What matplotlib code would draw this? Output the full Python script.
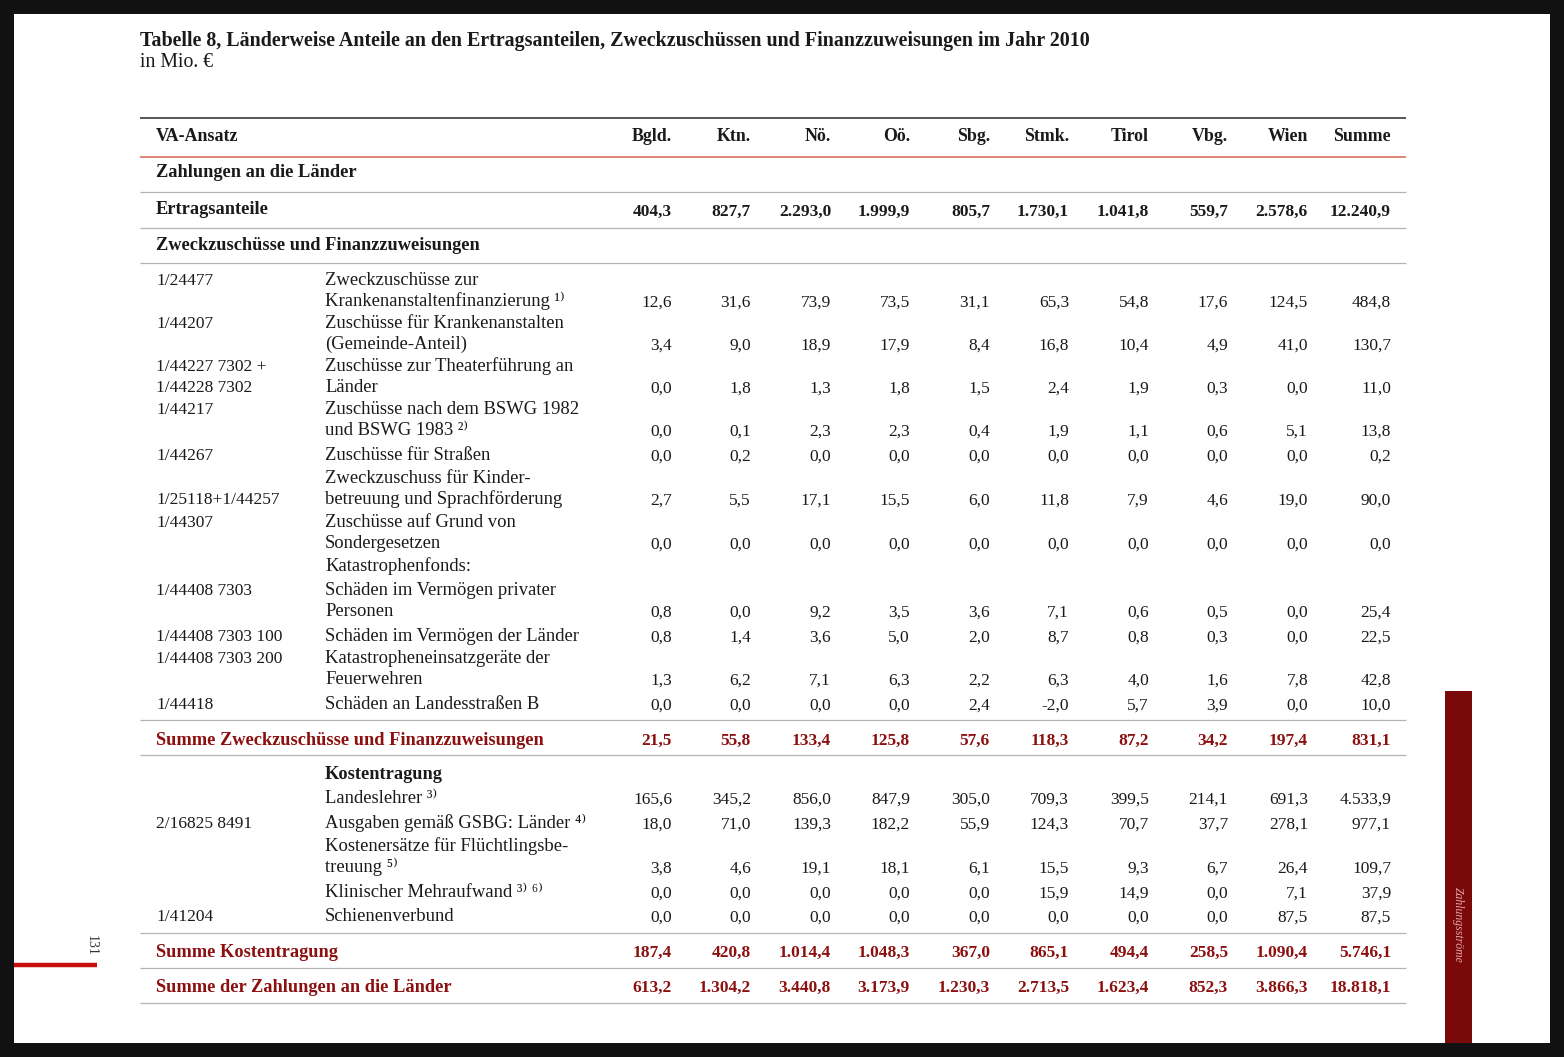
import matplotlib
matplotlib.use("Agg")
import matplotlib.pyplot as plt
from matplotlib.patches import Rectangle

plt.rcParams['font.family'] = ['Liberation Serif', 'DejaVu Serif']

# --- Daten (Mio. €) ---
laender = ['Bgld.', 'Ktn.', 'Nö.', 'Oö.', 'Sbg.', 'Stmk.', 'Tirol', 'Vbg.', 'Wien', 'Summe']

ertragsanteile = ['404,3', '827,7', '2.293,0', '1.999,9', '805,7', '1.730,1', '1.041,8', '559,7', '2.578,6', '12.240,9']

zz_codes = [['1/24477', ''], ['1/44207', ''], ['1/44227 7302 +', '1/44228 7302'], ['1/44217', ''],
            ['1/44267'], ['', '1/25118+1/44257'], ['1/44307', ''], [''],
            ['1/44408 7303', ''], ['1/44408 7303 100'], ['1/44408 7303 200', ''], ['1/44418']]
zz_desc = [['Zweckzuschüsse zur', 'Krankenanstaltenfinanzierung ¹⁾'],
           ['Zuschüsse für Krankenanstalten', '(Gemeinde-Anteil)'],
           ['Zuschüsse zur Theaterführung an', 'Länder'],
           ['Zuschüsse nach dem BSWG 1982', 'und BSWG 1983 ²⁾'],
           ['Zuschüsse für Straßen'],
           ['Zweckzuschuss für Kinder-', 'betreuung und Sprachförderung'],
           ['Zuschüsse auf Grund von', 'Sondergesetzen'],
           ['Katastrophenfonds:'],
           ['Schäden im Vermögen privater', 'Personen'],
           ['Schäden im Vermögen der Länder'],
           ['Katastropheneinsatzgeräte der', 'Feuerwehren'],
           ['Schäden an Landesstraßen B']]
zz_values = [
    ['12,6', '31,6', '73,9', '73,5', '31,1', '65,3', '54,8', '17,6', '124,5', '484,8'],
    ['3,4', '9,0', '18,9', '17,9', '8,4', '16,8', '10,4', '4,9', '41,0', '130,7'],
    ['0,0', '1,8', '1,3', '1,8', '1,5', '2,4', '1,9', '0,3', '0,0', '11,0'],
    ['0,0', '0,1', '2,3', '2,3', '0,4', '1,9', '1,1', '0,6', '5,1', '13,8'],
    ['0,0', '0,2', '0,0', '0,0', '0,0', '0,0', '0,0', '0,0', '0,0', '0,2'],
    ['2,7', '5,5', '17,1', '15,5', '6,0', '11,8', '7,9', '4,6', '19,0', '90,0'],
    ['0,0', '0,0', '0,0', '0,0', '0,0', '0,0', '0,0', '0,0', '0,0', '0,0'],
    None,
    ['0,8', '0,0', '9,2', '3,5', '3,6', '7,1', '0,6', '0,5', '0,0', '25,4'],
    ['0,8', '1,4', '3,6', '5,0', '2,0', '8,7', '0,8', '0,3', '0,0', '22,5'],
    ['1,3', '6,2', '7,1', '6,3', '2,2', '6,3', '4,0', '1,6', '7,8', '42,8'],
    ['0,0', '0,0', '0,0', '0,0', '2,4', '-2,0', '5,7', '3,9', '0,0', '10,0'],
]
summe_zz = ['21,5', '55,8', '133,4', '125,8', '57,6', '118,3', '87,2', '34,2', '197,4', '831,1']

kt_codes = [[''], ['2/16825 8491'], ['', ''], [''], ['1/41204']]
kt_desc = [['Landeslehrer ³⁾'], ['Ausgaben gemäß GSBG: Länder ⁴⁾'],
           ['Kostenersätze für Flüchtlingsbe-', 'treuung ⁵⁾'],
           ['Klinischer Mehraufwand ³⁾ ⁶⁾'], ['Schienenverbund']]
kt_values = [
    ['165,6', '345,2', '856,0', '847,9', '305,0', '709,3', '399,5', '214,1', '691,3', '4.533,9'],
    ['18,0', '71,0', '139,3', '182,2', '55,9', '124,3', '70,7', '37,7', '278,1', '977,1'],
    ['3,8', '4,6', '19,1', '18,1', '6,1', '15,5', '9,3', '6,7', '26,4', '109,7'],
    ['0,0', '0,0', '0,0', '0,0', '0,0', '15,9', '14,9', '0,0', '7,1', '37,9'],
    ['0,0', '0,0', '0,0', '0,0', '0,0', '0,0', '0,0', '0,0', '87,5', '87,5'],
]
summe_kt = ['187,4', '420,8', '1.014,4', '1.048,3', '367,0', '865,1', '494,4', '258,5', '1.090,4', '5.746,1']
summe_gesamt = ['613,2', '1.304,2', '3.440,8', '3.173,9', '1.230,3', '2.713,5', '1.623,4', '852,3', '3.866,3', '18.818,1']

# --- Layout (Pixel) ---
col_right = [672, 751, 831, 910, 990, 1069, 1149, 1228, 1308, 1391]
x_code, x_desc, x_left, x_right = 156, 325, 140, 1406
zz_row_y = [285, 328, 371, 414, 460, 483, 527, 571, 595, 641, 663, 709]
kt_row_y = [803, 828, 851, 897, 921]
line_h = 21
fs_num = 12.5      # Zahlen und Ansatz-Codes
fs_txt = 13.4      # Beschreibungen
fs_bold = 13.2     # fette Zeilenbeschriftungen
dark = '#1a1a1a'
red_txt = '#8c1010'

fig = plt.figure(figsize=(15.64, 10.57), dpi=100, facecolor='#111111')
ax = fig.add_axes([0, 0, 1, 1])
ax.set_xlim(0, 1564)
ax.set_ylim(1057, 0)
ax.axis('off')

# Seite
ax.add_patch(Rectangle((14, 14), 1536, 1029, facecolor='white', edgecolor='none'))
ax.add_patch(Rectangle((1445, 691), 27, 352, facecolor='#7a0a0a', edgecolor='none'))
ax.text(1458, 925, 'Zahlungsströme', rotation=270, ha='center', va='center',
        fontsize=8.5, style='italic', color='#e9a3a3')
ax.plot([14, 97], [965, 965], color='#c80f0f', lw=3.2, solid_capstyle='butt')
ax.text(91, 945, '131', rotation=270, ha='center', va='center', fontsize=10, color='#333333')

# Titel
ax.text(140, 46, 'Tabelle 8, Länderweise Anteile an den Ertragsanteilen, Zweckzuschüssen und '
        'Finanzzuweisungen im Jahr 2010', fontsize=14.4, fontweight='bold', color=dark, va='baseline')
ax.text(140, 67, 'in Mio. €', fontsize=14.2, color=dark, va='baseline')


def hline(y, color='#b4b4b4', lw=0.9):
    ax.plot([x_left, x_right], [y, y], color=color, lw=lw, solid_capstyle='butt')


def values(y, vals, bold=False, color=dark, fs=fs_num):
    for xr, v in zip(col_right, vals):
        ax.text(xr, y, v, ha='right', va='baseline', fontsize=fs, color=color,
                fontweight='bold' if bold else 'normal')


def label(x, y, s, bold=False, color=dark):
    ax.text(x, y, s, fontsize=fs_bold if bold else fs_txt, va='baseline', color=color,
            fontweight='bold' if bold else 'normal')


# Kopf
hline(118, color='#4a4a4a', lw=1.3)
ax.text(x_code, 141, 'VA-Ansatz', fontsize=13, fontweight='bold', va='baseline', color=dark)
values(141, laender, bold=True, fs=12.9)
hline(157, color='#d8644f', lw=1.1)

label(x_code, 177, 'Zahlungen an die Länder', bold=True)
hline(192)
label(x_code, 214, 'Ertragsanteile', bold=True)
values(216, ertragsanteile, bold=True)
hline(228)
label(x_code, 250, 'Zweckzuschüsse und Finanzzuweisungen', bold=True)
hline(263)

for y0, codes, desc, vals in zip(zz_row_y, zz_codes, zz_desc, zz_values):
    for i, c in enumerate(codes):
        ax.text(x_code, y0 + i * line_h, c, fontsize=fs_num, va='baseline', color=dark)
    for i, d in enumerate(desc):
        label(x_desc, y0 + i * line_h, d)
    if vals is not None:
        values(y0 + (len(desc) - 1) * line_h + 1, vals)
hline(720)

label(x_code, 745, 'Summe Zweckzuschüsse und Finanzzuweisungen', bold=True, color=red_txt)
values(745, summe_zz, bold=True, color=red_txt)
hline(755)

label(x_desc, 779, 'Kostentragung', bold=True)
for y0, codes, desc, vals in zip(kt_row_y, kt_codes, kt_desc, kt_values):
    for i, c in enumerate(codes):
        ax.text(x_code, y0 + i * line_h, c, fontsize=fs_num, va='baseline', color=dark)
    for i, d in enumerate(desc):
        label(x_desc, y0 + i * line_h, d)
    values(y0 + (len(desc) - 1) * line_h + 1, vals)
hline(933)

label(x_code, 957, 'Summe Kostentragung', bold=True, color=red_txt)
values(957, summe_kt, bold=True, color=red_txt)
hline(968)
label(x_code, 992, 'Summe der Zahlungen an die Länder', bold=True, color=red_txt)
values(992, summe_gesamt, bold=True, color=red_txt)
hline(1003)

fig.savefig('out.png', dpi=100, facecolor=fig.get_facecolor())
